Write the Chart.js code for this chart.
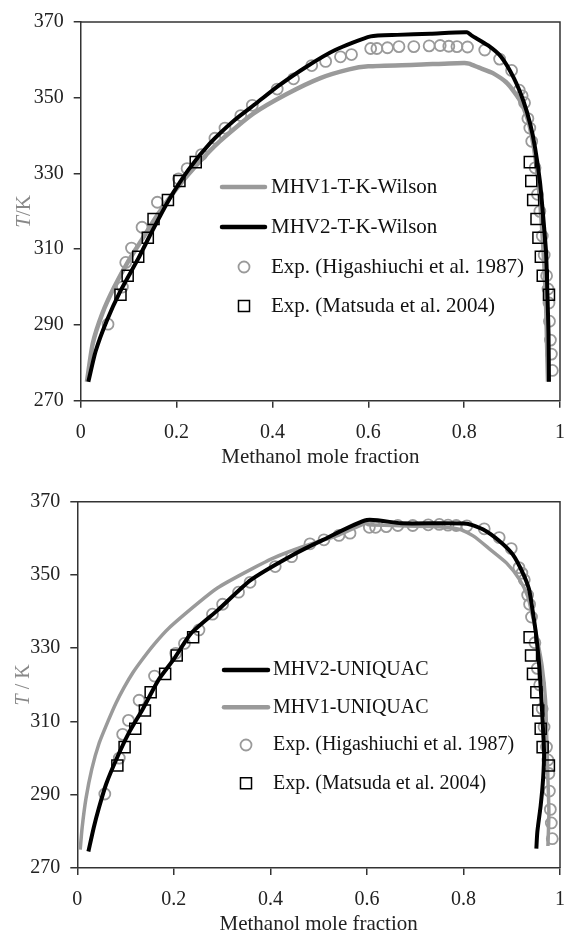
<!DOCTYPE html>
<html>
<head>
<meta charset="utf-8">
<script src="https://cdn.jsdelivr.net/npm/chart.js@4.4.1/dist/chart.umd.min.js"></script>
<style>
  body { margin: 0; background: #fff; }
  .panel { position: absolute; left: 0; }
</style>
</head>
<body>
<div class="panel" style="top:0"><canvas id="wilsonChart" width="578" height="470"></canvas></div>
<div class="panel" style="top:470px"><canvas id="uniquacChart" width="578" height="468"></canvas></div>
<script>
const xTickValues = [0, 0.2, 0.4, 0.6, 0.8, 1];
const yTickValues = [270, 290, 310, 330, 350, 370];

// top panel: T-K-Wilson
const wilsonMhv1X = [0.013, 0.025, 0.045, 0.07, 0.10, 0.13, 0.16, 0.20, 0.24, 0.29, 0.36, 0.43, 0.50, 0.56, 0.60, 0.70, 0.80, 0.81, 0.83, 0.86, 0.89, 0.915, 0.933, 0.944, 0.952, 0.959, 0.964, 0.968, 0.971, 0.973, 0.975];
const wilsonMhv1T = [275, 285, 293, 300, 307, 313, 319, 326, 332, 338.5, 345.8, 351, 355.2, 357.5, 358.3, 358.7, 359.2, 359, 358, 356.5, 353.8, 349.6, 344.3, 338, 331, 322, 313, 304, 295, 285, 275];
const wilsonMhv2X = [0.016, 0.031, 0.054, 0.083, 0.12, 0.15, 0.184, 0.225, 0.27, 0.32, 0.367, 0.411, 0.471, 0.531, 0.605, 0.66, 0.73, 0.806, 0.816, 0.85, 0.877, 0.904, 0.924, 0.938, 0.948, 0.958, 0.965, 0.971, 0.974, 0.976, 0.977];
const wilsonMhv2T = [275, 283, 291, 299, 307.5, 315, 323, 331, 338, 344, 348.6, 353, 358.2, 362.6, 366.2, 366.6, 366.9, 367.3, 366.4, 363.8, 360.8, 355.1, 349, 343, 336.8, 328, 318.5, 309, 297, 288, 275];

// bottom panel: UNIQUAC
const uniquacMhv2X = [0.023, 0.034, 0.045, 0.06, 0.083, 0.106, 0.136, 0.168, 0.2, 0.236, 0.291, 0.359, 0.44, 0.508, 0.6, 0.671, 0.807, 0.841, 0.875, 0.902, 0.923, 0.936, 0.943, 0.950, 0.957, 0.963, 0.967, 0.965, 0.960, 0.953, 0.951];
const uniquacMhv2T = [274.5, 281, 286.5, 293, 300.3, 306.7, 313.5, 321.3, 327, 334.1, 340.4, 348.6, 355, 359.5, 365, 364.1, 364, 362.4, 359.2, 355.6, 350.5, 346, 340.5, 334.2, 325.1, 312.4, 301.5, 294.4, 287.1, 279.8, 275.3];
const uniquacMhv1X = [0.006, 0.010, 0.018, 0.030, 0.045, 0.065, 0.080, 0.097, 0.115, 0.135, 0.160, 0.189, 0.25, 0.291, 0.345, 0.406, 0.467, 0.542, 0.597, 0.603, 0.739, 0.793, 0.821, 0.855, 0.889, 0.916, 0.933, 0.943, 0.953, 0.963, 0.970, 0.973, 0.975, 0.977, 0.975];
const uniquacMhv1T = [275, 281, 289, 297, 304, 310.5, 315, 319.3, 323.3, 327, 331.2, 335.4, 342.3, 346.5, 350.5, 354.6, 357.7, 360.9, 364.1, 363.7, 363.2, 362.4, 360.6, 357, 353.3, 348.8, 344.2, 338.8, 332.4, 325.1, 316, 303.3, 294.2, 285.1, 276];

// experimental points (same in both panels)
const higashiuchiX = [0.057, 0.087, 0.094, 0.106, 0.128, 0.160, 0.204, 0.222, 0.252, 0.280, 0.301, 0.334, 0.358, 0.410, 0.444, 0.482, 0.511, 0.542, 0.565, 0.605, 0.618, 0.640, 0.664, 0.695, 0.727, 0.750, 0.768, 0.785, 0.807, 0.843, 0.874, 0.899, 0.915, 0.921, 0.926, 0.933, 0.937, 0.941, 0.948, 0.953, 0.958, 0.963, 0.967, 0.972, 0.975, 0.977, 0.978, 0.980, 0.982, 0.984];
const higashiuchiT = [290.2, 300, 306.5, 310.3, 315.8, 322.4, 328.6, 331.3, 335, 339.3, 342, 345.3, 348, 352.3, 355, 358.5, 359.6, 360.8, 361.4, 363, 363, 363.2, 363.5, 363.5, 363.7, 363.8, 363.6, 363.5, 363.4, 362.6, 360.2, 357.2, 352, 350.5, 348.7, 344.5, 342, 338.5, 331.5, 324.5, 320, 313.5, 308.5, 303, 299.5, 295.8, 291, 286, 282.3, 278];
const matsudaT = [333, 328, 323, 318, 313, 308, 303, 298];
const matsudaXLeft = [0.240, 0.206, 0.182, 0.152, 0.140, 0.120, 0.098, 0.083];
const matsudaXRight = [0.937, 0.940, 0.944, 0.951, 0.955, 0.960, 0.964, 0.977];

const SERIF = "'Liberation Serif', 'Times New Roman', serif";
const GRAY = "#9a9a9a";
const AXIS = "#333333";

function pts(xs, ts) {
  return xs.map((x, i) => ({ x: x, y: ts[i] }));
}

function lineSet(label, xs, ts, color, width, order) {
  return {
    label: label,
    data: pts(xs, ts),
    showLine: true,
    borderColor: color,
    backgroundColor: color,
    borderWidth: width,
    pointRadius: 0,
    pointHoverRadius: 0,
    tension: 0.2,
    fill: false,
    order: order
  };
}

function circleSet() {
  return {
    label: "Exp. (Higashiuchi et al. 1987)",
    data: pts(higashiuchiX, higashiuchiT),
    showLine: false,
    pointStyle: "circle",
    pointRadius: 5.5,
    borderColor: GRAY,
    backgroundColor: "rgba(0,0,0,0)",
    pointBorderWidth: 1.8,
    order: 3
  };
}

function squareSet() {
  return {
    label: "Exp. (Matsuda et al. 2004)",
    data: pts(matsudaXLeft, matsudaT).concat(pts(matsudaXRight, matsudaT)),
    showLine: false,
    pointStyle: "rect",
    pointRadius: 7.8,
    borderColor: "#000",
    backgroundColor: "rgba(0,0,0,0)",
    pointBorderWidth: 1.5,
    order: 0
  };
}

// frame, y title and legend drawn over the chart
const decorPlugin = {
  id: "decor",
  afterDraw(chart, args, opts) {
    const ctx = chart.ctx;
    const a = chart.chartArea;
    ctx.save();

    ctx.strokeStyle = AXIS;
    ctx.lineWidth = 1.5;
    ctx.beginPath();
    ctx.moveTo(a.left, a.top);
    ctx.lineTo(a.right, a.top);
    ctx.lineTo(a.right, a.bottom);
    ctx.stroke();

    // y title with italic T
    ctx.save();
    ctx.translate(opts.titleX, (a.top + a.bottom) / 2);
    ctx.rotate(-Math.PI / 2);
    ctx.fillStyle = "#888";
    ctx.textBaseline = "middle";
    const italic = "italic " + opts.titleSize + "px " + SERIF;
    const normal = opts.titleSize + "px " + SERIF;
    ctx.font = italic;
    const w1 = ctx.measureText("T").width;
    ctx.font = normal;
    const w2 = ctx.measureText(opts.titleRest).width;
    let x = -(w1 + w2) / 2;
    ctx.font = italic;
    ctx.fillText("T", x, 0);
    ctx.font = normal;
    ctx.fillText(opts.titleRest, x + w1, 0);
    ctx.restore();

    // legend
    const lg = opts.legend;
    ctx.font = lg.size + "px " + SERIF;
    ctx.textBaseline = "middle";
    ctx.fillStyle = "#111";
    lg.order.forEach((idx, row) => {
      const ds = chart.data.datasets[idx];
      const y = lg.rows[row];
      if (ds.showLine) {
        ctx.strokeStyle = ds.borderColor;
        ctx.lineWidth = 4.5;
        ctx.lineCap = "round";
        ctx.beginPath();
        ctx.moveTo(lg.x0, y);
        ctx.lineTo(lg.x1, y);
        ctx.stroke();
      } else {
        ctx.strokeStyle = ds.borderColor;
        ctx.lineWidth = ds.pointBorderWidth;
        ctx.beginPath();
        if (ds.pointStyle === "circle") {
          ctx.arc(lg.sym, y, ds.pointRadius, 0, Math.PI * 2);
        } else {
          const s = ds.pointRadius * Math.SQRT1_2;
          ctx.rect(lg.sym - s, y - s, 2 * s, 2 * s);
        }
        ctx.stroke();
      }
      ctx.fillText(ds.label, lg.textX, y);
    });

    ctx.restore();
  }
};

function makeChart(id, g, datasets, decor) {
  const h = document.getElementById(id).height;
  const w = document.getElementById(id).width;
  return new Chart(document.getElementById(id), {
    type: "scatter",
    data: { datasets: datasets },
    options: {
      responsive: false,
      animation: false,
      events: [],
      layout: {
        autoPadding: false,
        padding: { left: 0, top: g.top, right: w - g.right, bottom: 0 }
      },
      plugins: {
        legend: { display: false },
        tooltip: { enabled: false },
        decor: decor
      },
      scales: {
        x: {
          type: "linear",
          min: 0,
          max: 1,
          afterBuildTicks: s => { s.ticks = xTickValues.map(v => ({ value: v })); },
          afterFit: s => { s.height = h - g.bottom; },
          grid: { drawOnChartArea: false, tickLength: 7, color: AXIS, lineWidth: 1.5 },
          border: { color: AXIS, width: 1.5 },
          ticks: {
            color: "#222",
            font: { family: SERIF, size: g.tickSize },
            padding: 13,
            maxRotation: 0,
            autoSkip: false,
            callback: v => String(v)
          },
          title: {
            display: true,
            text: "Methanol mole fraction",
            color: "#222",
            font: { family: SERIF, size: g.tickSize + 1 },
            padding: { top: 0, bottom: g.titlePad }
          }
        },
        y: {
          type: "linear",
          min: 270,
          max: 370,
          afterBuildTicks: s => { s.ticks = yTickValues.map(v => ({ value: v })); },
          afterFit: s => { s.width = g.left; },
          grid: { drawOnChartArea: false, tickLength: 7, color: AXIS, lineWidth: 1.5 },
          border: { color: AXIS, width: 1.5 },
          ticks: {
            color: "#222",
            font: { family: SERIF, size: g.tickSize },
            padding: 10,
            autoSkip: false
          }
        }
      }
    },
    plugins: [decorPlugin]
  });
}

makeChart("wilsonChart",
  { left: 80.7, right: 574.3, top: 19, bottom: 400.7, tickSize: 20, titlePad: 0 },
  [
    squareSet(),
    lineSet("MHV1-T-K-Wilson", wilsonMhv1X, wilsonMhv1T, GRAY, 4.5, 2),
    lineSet("MHV2-T-K-Wilson", wilsonMhv2X, wilsonMhv2T, "#000", 4, 1),
    circleSet()
  ],
  {
    titleX: 24, titleSize: 21, titleRest: "/K",
    legend: { order: [1, 2, 3, 0], rows: [187, 227, 267, 306], x0: 222, x1: 265, sym: 244, textX: 271, size: 21 }
  });

makeChart("uniquacChart",
  { left: 77.3, right: 568, top: 31.7, bottom: 398, tickSize: 20, titlePad: 1 },
  [
    squareSet(),
    lineSet("MHV2-UNIQUAC", uniquacMhv2X, uniquacMhv2T, "#000", 4, 1),
    lineSet("MHV1-UNIQUAC", uniquacMhv1X, uniquacMhv1T, GRAY, 3.5, 2),
    circleSet()
  ],
  {
    titleX: 24, titleSize: 20, titleRest: " / K",
    legend: { order: [1, 2, 3, 0], rows: [200, 237.3, 275, 313.3], x0: 224, x1: 268, sym: 246, textX: 273, size: 20 }
  });
</script>
</body>
</html>
